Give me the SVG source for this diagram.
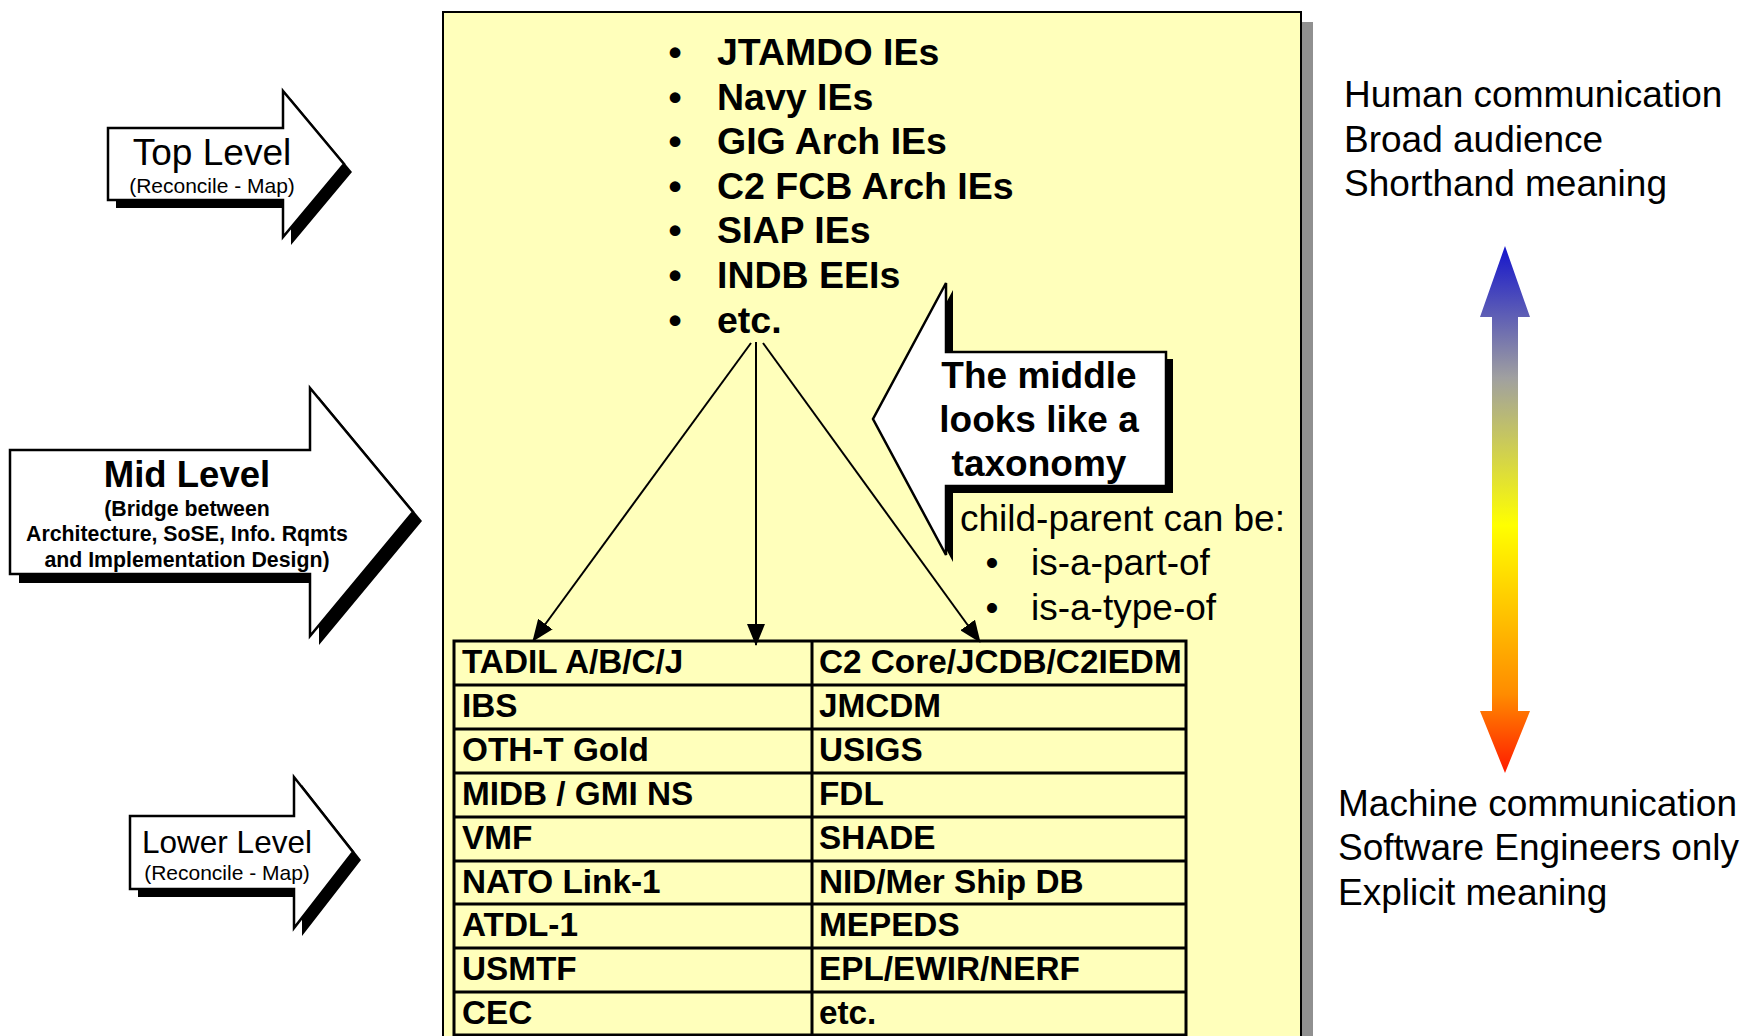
<svg xmlns="http://www.w3.org/2000/svg" width="1742" height="1036" viewBox="0 0 1742 1036">
<style>
text{font-family:"Liberation Sans",Arial,sans-serif;fill:#000}
.b{font-weight:bold}
.big{font-size:37px}
.list{font-size:37.5px;font-weight:bold}
.tbl{font-size:33.3px;font-weight:bold}
.arrow{fill:#fff;stroke:#000;stroke-width:2.5;stroke-linejoin:miter}
.shadow{fill:#000}
.conn{stroke:#000;stroke-width:2;fill:none}
.grid{stroke:#000;stroke-width:3;fill:none}
</style>
<defs>
<marker id="ah" markerUnits="userSpaceOnUse" markerWidth="22" markerHeight="18" viewBox="0 0 22 18" refX="21" refY="9" orient="auto">
<path d="M0,0 L22,9 L0,18 z" fill="#000"/>
</marker>
<linearGradient id="grad" gradientUnits="userSpaceOnUse" x1="0" y1="246" x2="0" y2="773">
<stop offset="0" stop-color="#1414cc"/>
<stop offset="0.25" stop-color="#a0a0a0"/>
<stop offset="0.53" stop-color="#ffff00"/>
<stop offset="0.85" stop-color="#ff8c00"/>
<stop offset="1" stop-color="#ff1a00"/>
</linearGradient>
</defs>
<rect width="1742" height="1036" fill="#fff"/>

<g id="main-box">
<rect x="1302" y="22" width="11" height="1030" fill="#909090"/>
<rect x="443" y="12" width="858" height="1040" fill="#FFFFBB" stroke="#000" stroke-width="2"/>
</g>

<g id="top-list" class="list">
<text x="675" y="65" text-anchor="middle">•</text><text x="717" y="65">JTAMDO IEs</text>
<text x="675" y="110" text-anchor="middle">•</text><text x="717" y="110">Navy IEs</text>
<text x="675" y="154" text-anchor="middle">•</text><text x="717" y="154">GIG Arch IEs</text>
<text x="675" y="199" text-anchor="middle">•</text><text x="717" y="199">C2 FCB Arch IEs</text>
<text x="675" y="243" text-anchor="middle">•</text><text x="717" y="243">SIAP IEs</text>
<text x="675" y="288" text-anchor="middle">•</text><text x="717" y="288">INDB EEIs</text>
<text x="675" y="333" text-anchor="middle">•</text><text x="717" y="333">etc.</text>
</g>

<g id="connectors">
<line class="conn" x1="751" y1="343" x2="533" y2="641" marker-end="url(#ah)"/>
<line class="conn" x1="756" y1="342" x2="756" y2="645" marker-end="url(#ah)"/>
<line class="conn" x1="763" y1="343" x2="980" y2="642" marker-end="url(#ah)"/>
</g>

<g id="callout">
<polygon class="shadow" points="953,290 953,359 1173,359 1173,493 953,493 953,562 880,426"/>
<polygon class="arrow" stroke-width="2" points="946,283 946,352 1166,352 1166,486 946,486 946,555 873,419"/>
<text class="b big" x="1039" y="388" text-anchor="middle">The middle</text>
<text class="b big" x="1039" y="432" text-anchor="middle">looks like a</text>
<text class="b big" x="1039" y="476" text-anchor="middle">taxonomy</text>
</g>

<g id="child-parent" class="big">
<text x="960" y="531">child-parent can be:</text>
<text x="992" y="575" text-anchor="middle">•</text><text x="1031" y="575">is-a-part-of</text>
<text x="992" y="620" text-anchor="middle">•</text><text x="1031" y="620">is-a-type-of</text>
</g>

<g id="table">
<rect class="grid" x="454" y="641" width="732" height="394"/>
<path class="grid" d="M812,641V1035 M454,685H1186 M454,729H1186 M454,773H1186 M454,817H1186 M454,861H1186 M454,904H1186 M454,948H1186 M454,992H1186"/>
<g class="tbl">
<text x="462" y="673">TADIL A/B/C/J</text><text x="819" y="673">C2 Core/JCDB/C2IEDM</text>
<text x="462" y="717">IBS</text><text x="819" y="717">JMCDM</text>
<text x="462" y="761">OTH-T Gold</text><text x="819" y="761">USIGS</text>
<text x="462" y="805">MIDB / GMI NS</text><text x="819" y="805">FDL</text>
<text x="462" y="849">VMF</text><text x="819" y="849">SHADE</text>
<text x="462" y="893">NATO Link-1</text><text x="819" y="893">NID/Mer Ship DB</text>
<text x="462" y="936">ATDL-1</text><text x="819" y="936">MEPEDS</text>
<text x="462" y="980">USMTF</text><text x="819" y="980">EPL/EWIR/NERF</text>
<text x="462" y="1024">CEC</text><text x="819" y="1024">etc.</text>
</g>
</g>

<g id="top-level">
<polygon class="shadow" points="116,136 291,136 291,99 352,172 291,245 291,208 116,208"/>
<polygon class="arrow" points="108,128 283,128 283,91 344,164 283,237 283,200 108,200"/>
<text x="212" y="165" font-size="37" text-anchor="middle">Top Level</text>
<text x="212" y="193" font-size="21" text-anchor="middle">(Reconcile - Map)</text>
</g>

<g id="mid-level">
<polygon class="shadow" points="19,459 319,459 319,397 422,521 319,645 319,583 19,583"/>
<polygon class="arrow" points="10,450 310,450 310,388 413,512 310,636 310,574 10,574"/>
<text class="b" x="187" y="487" font-size="36.5" text-anchor="middle">Mid Level</text>
<text class="b" x="187" y="516" font-size="21.3" text-anchor="middle">(Bridge between</text>
<text class="b" x="187" y="541" font-size="21.3" text-anchor="middle">Architecture, SoSE, Info. Rqmts</text>
<text class="b" x="187" y="567" font-size="21.3" text-anchor="middle">and Implementation Design)</text>
</g>

<g id="lower-level">
<polygon class="shadow" points="138,824 302,824 302,785 361,860 302,936 302,897 138,897"/>
<polygon class="arrow" points="130,816 294,816 294,777 353,852 294,928 294,889 130,889"/>
<text x="227" y="853" font-size="31.5" text-anchor="middle">Lower Level</text>
<text x="227" y="880" font-size="21" text-anchor="middle">(Reconcile - Map)</text>
</g>

<g id="human-text" class="big">
<text x="1344" y="107">Human communication</text>
<text x="1344" y="152">Broad audience</text>
<text x="1344" y="196">Shorthand meaning</text>
</g>

<g id="scale-arrow">
<polygon fill="url(#grad)" points="1505,246 1530,317 1518,317 1518,711 1530,711 1505,773 1480,711 1492,711 1492,317 1480,317"/>
</g>

<g id="machine-text" class="big">
<text x="1338" y="816">Machine communication</text>
<text x="1338" y="860">Software Engineers only</text>
<text x="1338" y="905">Explicit meaning</text>
</g>
</svg>
